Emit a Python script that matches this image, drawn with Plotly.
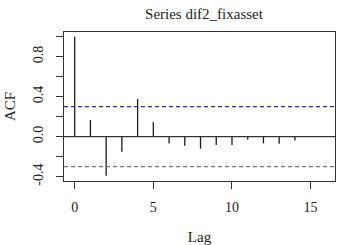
import plotly.graph_objects as go

lags = list(range(15))
acf = [1.0, 0.167, -0.39, -0.15, 0.377, 0.144, -0.067, -0.09, -0.12, -0.083,
       -0.083, -0.03, -0.067, -0.07, -0.037]
ci_upper = 0.30
ci_lower = -0.30
x_ticks = [0, 5, 10, 15]
y_ticks = [-0.4, -0.2, 0.0, 0.2, 0.4, 0.6, 0.8, 1.0]
y_labels = ["-0.4", "", "0.0", "", "0.4", "", "0.8", ""]

FONT = "Liberation Serif, Times New Roman, serif"

W, H = 340, 245

xs, ys = [], []
for l, v in zip(lags, acf):
    xs += [l, l, None]
    ys += [0, v, None]

fig = go.Figure()
fig.add_trace(go.Scatter(x=xs, y=ys, mode="lines",
                         line=dict(color="#1a1a1a", width=1.3),
                         hoverinfo="skip", showlegend=False))
fig.add_hline(y=0, line=dict(color="#333333", width=1.3))
fig.add_hline(y=ci_upper, line=dict(color="#2a2ab8", width=1.3, dash="4px,3px"))
fig.add_hline(y=ci_lower, line=dict(color="#7a6e9a", width=1.3, dash="4px,3px"))

fig.update_layout(
    width=W, height=H,
    margin=dict(l=64, r=5, t=32, b=64),
    paper_bgcolor="white", plot_bgcolor="white",
    hovermode=False,
    font=dict(family=FONT, color="#222222", size=14),
    title=dict(text="Series dif2_fixasset", x=204 / W, xanchor="center",
               y=1 - 14 / H, yanchor="middle",
               font=dict(family=FONT, size=15, color="#222222")),
    xaxis=dict(range=[-0.68, 16.55], tickvals=x_ticks, ticks="outside",
               ticklen=7, tickcolor="#333333", showgrid=False, zeroline=False,
               showline=True, linecolor="#333333", linewidth=1, mirror=True,
               automargin=False,
               tickfont=dict(size=14), ticklabelstandoff=6,
               title=dict(text="Lag", font=dict(size=15), standoff=18)),
    yaxis=dict(range=[-0.443, 1.047], tickvals=y_ticks, ticktext=y_labels,
               ticks="outside", ticklen=7, tickcolor="#333333",
               tickangle=-90, showgrid=False, zeroline=False,
               showline=True, linecolor="#333333", linewidth=1, mirror=True,
               automargin=False,
               tickfont=dict(size=14), ticklabelstandoff=7,
               title=dict(text="ACF", font=dict(size=15), standoff=12)),
)

fig.write_html("out.html",
               config={"displayModeBar": False, "staticPlot": True},
               post_script="document.body.style.margin='0';")
